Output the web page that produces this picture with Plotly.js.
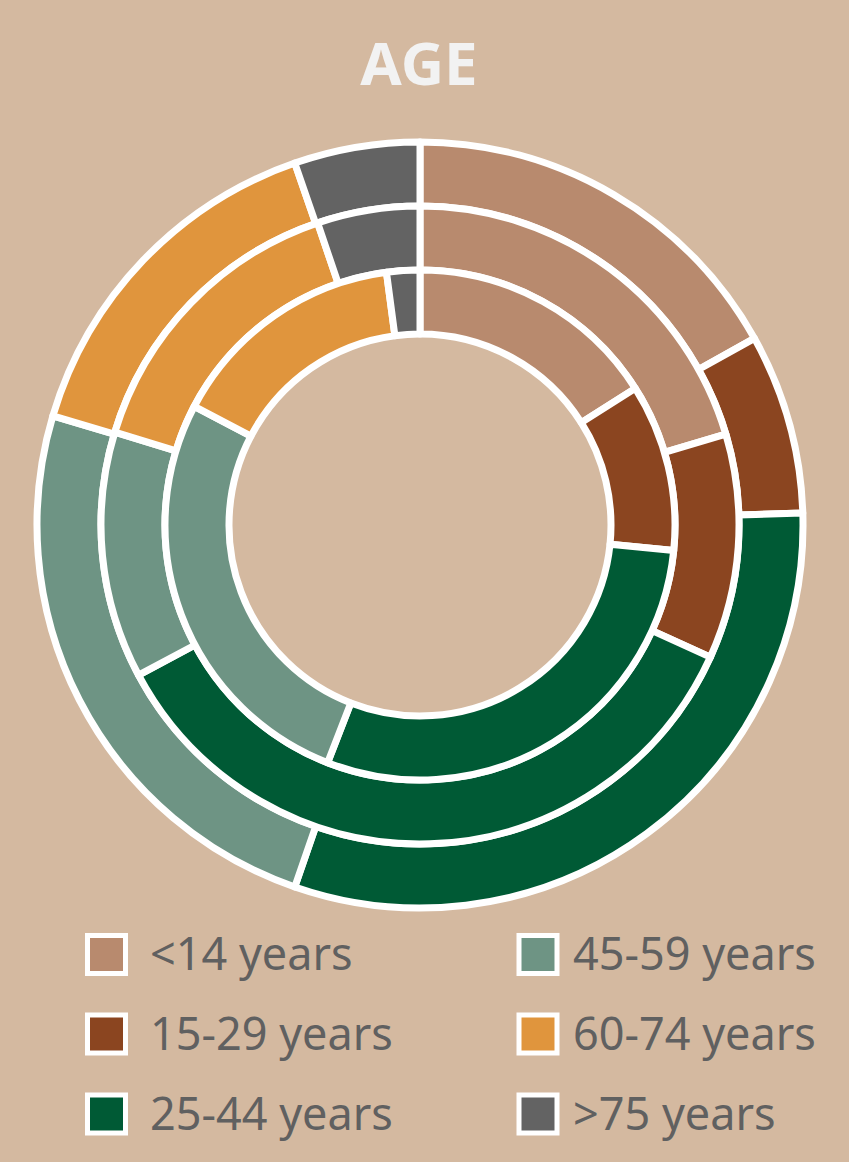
<!DOCTYPE html>
<html>
<head>
<meta charset="utf-8">
<script src="https://cdn.plot.ly/plotly-3.0.1.min.js"></script>
<style>
  html, body { margin: 0; padding: 0; background: #D4B9A0; }
  #chart { width: 849px; height: 1162px; }
</style>
</head>
<body>
<div id="chart"></div>
<script>
// ---- data ----
const categories = ['<14 years', '15-29 years', '25-44 years', '45-59 years', '60-74 years', '>75 years'];
const outerValues  = [16.9, 7.6, 30.8, 24.3, 15.1, 5.3];
const middleValues = [20.4, 11.4, 35.4, 12.5, 15.1, 5.2];
const innerValues  = [16.0, 10.6, 29.3, 26.8, 15.2, 2.1];
const colors = ['#B88A6E', '#8B4520', '#005A35', '#6E9484', '#E0953D', '#636363'];

// ---- layout helpers ----
const W = 849, H = 1162;
const cx = 420, cy = 525;
function domainFor(r) {
  return {
    x: [(cx - r) / W, (cx + r) / W],
    y: [(H - cy - r) / H, (H - cy + r) / H]
  };
}
function ring(values, r, rIn) {
  return {
    type: 'pie',
    labels: categories,
    values: values,
    sort: false,
    direction: 'clockwise',
    rotation: 0,
    hole: rIn / r,
    domain: domainFor(r),
    textinfo: 'none',
    hoverinfo: 'label+percent',
    marker: { colors: colors, line: { color: '#FFFFFF', width: 7 } },
    showlegend: false
  };
}
const data = [
  ring(outerValues, 383, 319),
  ring(middleValues, 319, 255),
  ring(innerValues, 255, 191)
];

// ---- manual legend (swatches + labels) ----
const colX = [106.5, 538];
const textX = [148, 571];
const rowY = [954.5, 1034, 1114];
const shapes = [];
const annotations = [];
categories.forEach((c, i) => {
  const col = Math.floor(i / 3), row = i % 3;
  const sx = colX[col], sy = rowY[row];
  shapes.push({
    type: 'rect', xref: 'paper', yref: 'paper',
    x0: (sx - 19) / W, x1: (sx + 19) / W,
    y0: (H - sy - 19) / H, y1: (H - sy + 19) / H,
    fillcolor: colors[i], line: { color: '#FFFFFF', width: 5 }
  });
  annotations.push({
    xref: 'paper', yref: 'paper',
    x: textX[col] / W, y: (H - sy + 2) / H,
    xanchor: 'left', yanchor: 'middle',
    text: c, showarrow: false,
    font: { family: 'Noto Sans, Open Sans, sans-serif', size: 45, color: '#606060' }
  });
});

const layout = {
  width: W, height: H,
  margin: { l: 0, r: 0, t: 0, b: 0 },
  paper_bgcolor: '#D4B9A0',
  plot_bgcolor: '#D4B9A0',
  title: {
    text: '<b>AGE</b>',
    x: 419 / W, xanchor: 'center',
    y: 1 - 64 / H, yanchor: 'middle',
    font: { family: 'Noto Sans, Open Sans, sans-serif', size: 60, color: '#F2F2F2' }
  },
  showlegend: false,
  shapes: shapes,
  annotations: annotations
};

Plotly.newPlot('chart', data, layout, { displayModeBar: false, staticPlot: true });
</script>
</body>
</html>
